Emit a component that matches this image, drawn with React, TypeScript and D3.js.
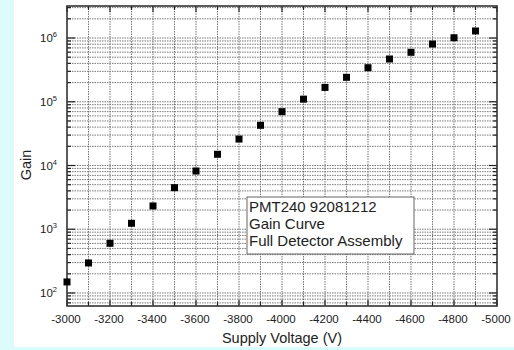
import React from "react";
import * as d3 from "d3";

const voltages = [-3000, -3100, -3200, -3300, -3400, -3500, -3600, -3700, -3800, -3900, -4000, -4100, -4200, -4300, -4400, -4500, -4600, -4700, -4800, -4900];
const gains = [149, 296, 602, 1240, 2320, 4490, 8200, 15000, 26000, 42700, 69900, 110000, 168000, 242000, 342000, 469000, 597000, 805000, 1010000, 1290000];
const xTickLabels = [-3000, -3200, -3400, -3600, -3800, -4000, -4200, -4400, -4600, -4800, -5000];
const yDecades = [2, 3, 4, 5, 6];
const legendLines = ["PMT240 92081212", "Gain Curve", "Full Detector Assembly"];
const xLabel = "Supply Voltage (V)";
const yLabel = "Gain";

const W = 514, H = 350;
const L = 67, R = 497, T = 6, B = 306;
const FONT = "'Liberation Sans', Arial, Helvetica, sans-serif";

export default function App() {
  const x = d3.scaleLinear().domain([-3000, -5000]).range([L, R]);
  const y = d3.scaleLog().domain([62.5, 3.18e6]).range([B, T]);
  const [y0, y1] = y.domain();

  const xMinor = d3.range(-3000, -5001, -100);
  const yMinor: { v: number; major: boolean }[] = [];
  for (let d = 1; d <= 7; d++) {
    for (let k = 1; k <= 9; k++) {
      const v = k * Math.pow(10, d);
      if (v >= y0 && v <= y1) yMinor.push({ v, major: k === 1 });
    }
  }

  return (
    <svg width={W} height={H} style={{ position: "absolute", left: 0, top: 0 }} fontFamily={FONT}>
      <rect x={0} y={0} width={W} height={H} fill="#dcfcfc" />
      <rect x={14} y={0} width={W - 14} height={347} fill="#ffffff" />
      {/* grid */}
      <g stroke="#6a6a6a" strokeWidth={0.9} strokeDasharray="1.5,1">
        {xMinor.filter((v) => v !== -3000 && v !== -5000).map((v) => (
          <line key={"gx" + v} x1={x(v)} x2={x(v)} y1={T} y2={B} />
        ))}
        {yMinor.map(({ v }) => (
          <line key={"gy" + v} x1={L} x2={R} y1={y(v)} y2={y(v)} />
        ))}
      </g>
      {/* ticks */}
      <g stroke="#222" strokeWidth={1.2}>
        {xMinor.map((v, i) => {
          const len = i % 2 === 0 ? 6 : 4;
          return (
            <g key={"tx" + v}>
              <line x1={x(v)} x2={x(v)} y1={B} y2={B - len} />
              <line x1={x(v)} x2={x(v)} y1={T} y2={T + len} />
            </g>
          );
        })}
        {yMinor.map(({ v, major }) => {
          const len = major ? 8 : 4;
          return (
            <g key={"ty" + v}>
              <line x1={L} x2={L + len} y1={y(v)} y2={y(v)} />
              <line x1={R} x2={R - len} y1={y(v)} y2={y(v)} />
            </g>
          );
        })}
      </g>
      {/* frame */}
      <rect x={L} y={T} width={R - L} height={B - T} fill="none" stroke="#333" strokeWidth={1.6} />
      {/* x labels */}
      <g fontSize={11.5} fill="#222" textAnchor="middle">
        {xTickLabels.map((v) => (
          <text key={"lx" + v} x={x(v) - 1} y={323}>{v}</text>
        ))}
      </g>
      {/* y labels */}
      <g fontSize={11.5} fill="#222" textAnchor="end">
        {yDecades.map((d) => (
          <text key={"ly" + d} x={57} y={y(Math.pow(10, d)) + 4}>
            10<tspan fontSize={7.5} dy={-5}>{d}</tspan>
          </text>
        ))}
      </g>
      {/* points */}
      <g fill="#000">
        {voltages.map((v, i) => (
          <rect key={"p" + v} x={x(v) - 3.5} y={y(gains[i]) - 3.5} width={7} height={7} />
        ))}
      </g>
      {/* legend */}
      <rect x={247} y={197} width={167} height={57} fill="#fff" stroke="#666" strokeWidth={1} />
      <g fontSize={15} fill="#222">
        {legendLines.map((t, i) => (
          <text key={"lg" + i} x={249} y={212 + i * 17}>{t}</text>
        ))}
      </g>
      {/* axis titles */}
      <text x={(L + R) / 2} y={343} fontSize={14.5} textAnchor="middle" fill="#222">{xLabel}</text>
      <text transform={`translate(31,${(T + B) / 2 + 9}) rotate(-90)`} fontSize={14.5} textAnchor="middle" fill="#222">{yLabel}</text>
    </svg>
  );
}
